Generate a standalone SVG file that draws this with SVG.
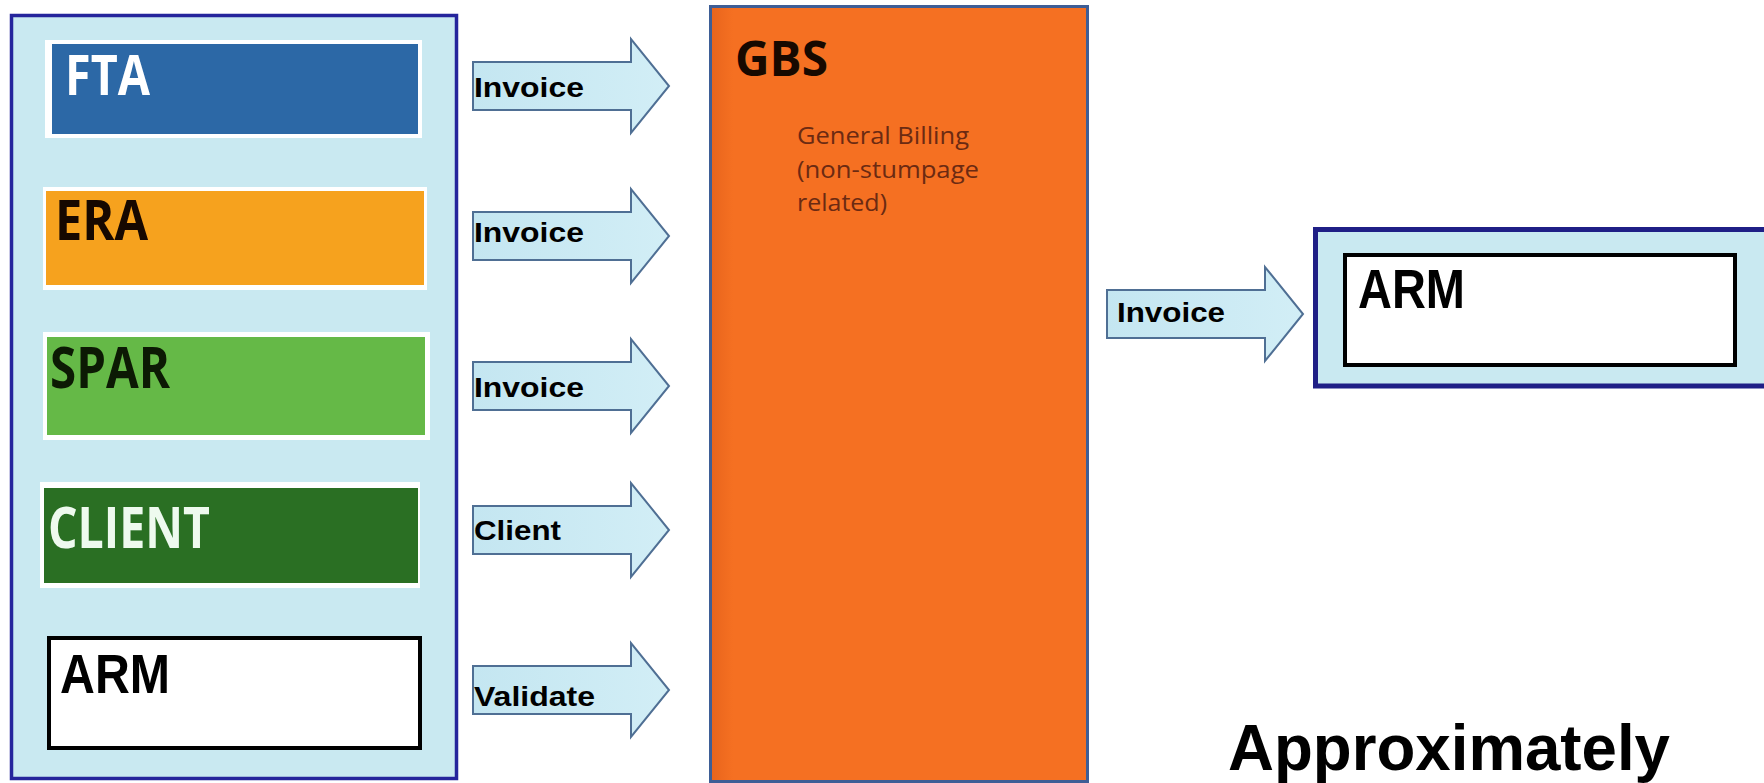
<svg xmlns="http://www.w3.org/2000/svg" width="1764" height="783" viewBox="0 0 1764 783">
  <defs>
    <style>
      .panel { fill: #c9e9f1; stroke: #25259c; stroke-width: 3.5; }
      .frame { fill: #ffffff; }
      .sys { font-family: "Open Sans", "Liberation Sans", sans-serif; font-weight: 700; }
      .arm { font-family: "Liberation Sans", Arial, sans-serif; font-weight: 700; font-size: 56px; fill: #000000; }
      .armbox { fill: #ffffff; stroke: #000000; stroke-width: 4; }
      .flow { fill: url(#flowFill); stroke: #4f6f94; stroke-width: 2; stroke-linejoin: miter; }
      .flowlabel { font-family: "Liberation Sans", Arial, sans-serif; font-weight: 700; font-size: 28px; fill: #000000; }
      .note { font-family: "Open Sans", "Liberation Sans", sans-serif; font-size: 23px; fill: #6b2a12; }
    </style>
    <linearGradient id="flowFill" x1="0" y1="0" x2="1" y2="0">
      <stop offset="0" stop-color="#c4e6f1"/>
      <stop offset="1" stop-color="#d2eef6"/>
    </linearGradient>
    <linearGradient id="gbsFill" x1="0" y1="0" x2="1" y2="0">
      <stop offset="0" stop-color="#e8641c"/>
      <stop offset="0.06" stop-color="#f57022"/>
      <stop offset="1" stop-color="#f57022"/>
    </linearGradient>
    <!-- block arrow drawn with its tail at the origin, pointing right -->
    <path id="flowArrow" d="M0,-24 H158 V-47 L196,0 L158,47 V24 H0 Z"/>
  </defs>

  <rect width="1764" height="783" fill="#ffffff"/>

  <!-- source systems -->
  <g id="sources">
    <rect class="panel" x="11.5" y="15.5" width="445" height="763"/>
  </g>

  <g id="fta">
    <rect class="frame" x="45" y="40" width="377" height="98"/>
    <rect x="52" y="44" width="366" height="90" fill="#2c68a6"/>
    <text class="sys" x="65" y="95" font-size="56" fill="#ffffff" textLength="85" lengthAdjust="spacingAndGlyphs">FTA</text>
  </g>

  <g id="era">
    <rect class="frame" x="43" y="187" width="384" height="103"/>
    <rect x="46" y="191" width="378" height="94" fill="#f6a21e"/>
    <text class="sys" x="55" y="240" font-size="56" fill="#160800" textLength="93" lengthAdjust="spacingAndGlyphs">ERA</text>
  </g>

  <g id="spar">
    <rect class="frame" x="43" y="332" width="387" height="108"/>
    <rect x="47" y="337" width="378" height="98" fill="#65b947"/>
    <text class="sys" x="50" y="388" font-size="58" fill="#0c1a04" textLength="120" lengthAdjust="spacingAndGlyphs">SPAR</text>
  </g>

  <g id="client">
    <rect class="frame" x="40" y="482" width="380" height="106"/>
    <rect x="44" y="488" width="374" height="95" fill="#2a6f23"/>
    <text class="sys" x="48" y="548" font-size="57" fill="#eefaee" textLength="162" lengthAdjust="spacingAndGlyphs">CLIENT</text>
  </g>

  <g id="arm-source">
    <rect class="armbox" x="49" y="638" width="371" height="110"/>
    <text class="arm" x="60" y="693" textLength="110" lengthAdjust="spacingAndGlyphs">ARM</text>
  </g>

  <!-- billing system -->
  <g id="gbs">
    <rect x="710.5" y="6.5" width="377" height="775" fill="url(#gbsFill)" stroke="#3e5e96" stroke-width="3"/>
    <text class="sys" x="735" y="76" font-size="48" fill="#170900" textLength="93" lengthAdjust="spacingAndGlyphs">GBS</text>
    <text class="note" x="797" y="144" textLength="172" lengthAdjust="spacingAndGlyphs">General Billing</text>
    <text class="note" x="797" y="178" textLength="182" lengthAdjust="spacingAndGlyphs">(non-stumpage</text>
    <text class="note" x="797" y="211" textLength="90" lengthAdjust="spacingAndGlyphs">related)</text>
  </g>

  <!-- receivables system -->
  <g id="arm-target">
    <rect x="1315.5" y="229.5" width="500" height="156.5" fill="#c9e9f1" stroke="#1f1f86" stroke-width="5"/>
    <rect class="armbox" x="1345" y="255" width="390" height="110"/>
    <text class="arm" x="1358" y="308" textLength="107" lengthAdjust="spacingAndGlyphs">ARM</text>
  </g>

  <!-- data flows -->
  <g id="connectors">
    <use href="#flowArrow" class="flow" transform="translate(473,86)"/>
    <text class="flowlabel" x="474" y="97" textLength="110" lengthAdjust="spacingAndGlyphs">Invoice</text>

    <use href="#flowArrow" class="flow" transform="translate(473,236)"/>
    <text class="flowlabel" x="474" y="242" textLength="110" lengthAdjust="spacingAndGlyphs">Invoice</text>

    <use href="#flowArrow" class="flow" transform="translate(473,386)"/>
    <text class="flowlabel" x="474" y="397" textLength="110" lengthAdjust="spacingAndGlyphs">Invoice</text>

    <use href="#flowArrow" class="flow" transform="translate(473,530)"/>
    <text class="flowlabel" x="474" y="540" textLength="87" lengthAdjust="spacingAndGlyphs">Client</text>

    <use href="#flowArrow" class="flow" transform="translate(473,690)"/>
    <text class="flowlabel" x="474" y="706" textLength="121" lengthAdjust="spacingAndGlyphs">Validate</text>

    <use href="#flowArrow" class="flow" transform="translate(1107,314)"/>
    <text class="flowlabel" x="1117" y="322" textLength="108" lengthAdjust="spacingAndGlyphs">Invoice</text>
  </g>

  <text x="1228" y="770" font-family="Liberation Sans, Arial, sans-serif" font-weight="700" font-size="64" fill="#000000" textLength="442" lengthAdjust="spacingAndGlyphs">Approximately</text>
</svg>
